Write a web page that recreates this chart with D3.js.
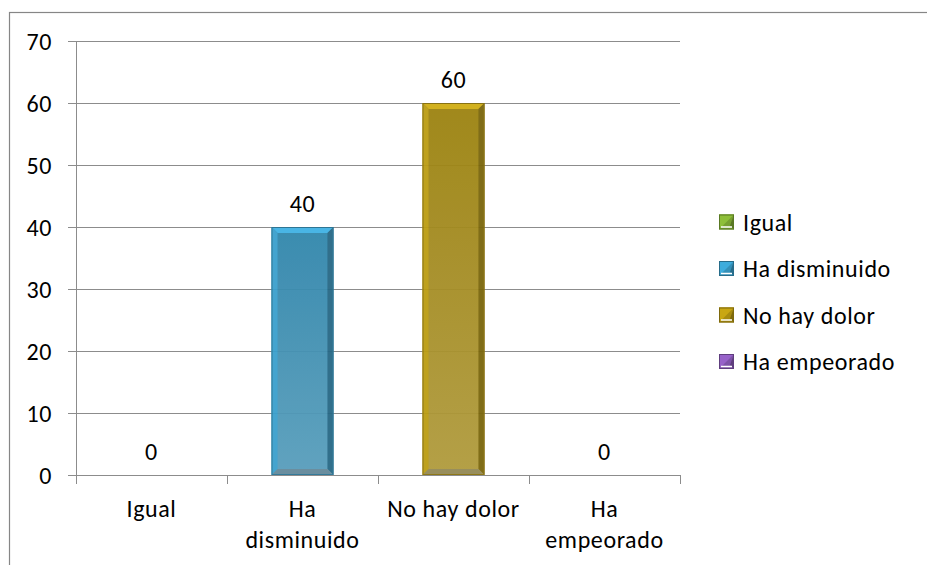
<!DOCTYPE html>
<html><head><meta charset="utf-8">
<script src="https://cdn.jsdelivr.net/npm/d3@7/dist/d3.min.js"></script>
<style>
html,body{margin:0;padding:0;background:#fff;}
svg{display:block;font-family:Calibri,Carlito,Lato,"Open Sans",sans-serif;}
svg text{letter-spacing:0.6px;}
</style></head>
<body>
<script>
const categories = ["Igual", "Ha disminuido", "No hay dolor", "Ha empeorado"];
const xLabelLines = [["Igual"], ["Ha", "disminuido"], ["No hay dolor"], ["Ha", "empeorado"]];
const values = [0, 40, 60, 0];
const colors = ["#77a030", "#3490b8", "#a88c10", "#7e52a8"];
const yTicks = [0, 10, 20, 30, 40, 50, 60, 70];

const W = 927, H = 565;
const svg = d3.select("body").append("svg").attr("width", W).attr("height", H);

// outer frame
svg.append("rect").attr("x", 9.5).attr("y", 12.5).attr("width", 930).attr("height", 600)
  .attr("fill", "none").attr("stroke", "#868686").attr("stroke-width", 1.2);

const plot = {left: 76, right: 680, top: 41, bottom: 475};
const x = d3.scaleBand().domain(categories).range([plot.left, plot.right]).paddingInner(0.59).paddingOuter(0.295);
const xc = d3.scaleBand().domain(categories).range([plot.left, plot.right]);
const y = d3.scaleLinear().domain([0, 70]).range([plot.bottom, plot.top]);

const fs = 24;
// gridlines
svg.append("g").selectAll("line").data(yTicks).join("line")
  .attr("x1", plot.left - 8).attr("x2", plot.right)
  .attr("y1", d => Math.round(y(d)) + 0.5).attr("y2", d => Math.round(y(d)) + 0.5)
  .attr("stroke", "#8c8c8c").attr("stroke-width", 1);

// y axis line
svg.append("line").attr("x1", plot.left + 0.5).attr("x2", plot.left + 0.5)
  .attr("y1", plot.top).attr("y2", plot.bottom + 1).attr("stroke", "#8c8c8c");

// y tick labels
svg.append("g").selectAll("text").data(yTicks).join("text")
  .attr("x", 52).attr("y", d => y(d)).attr("dy", "0.36em")
  .attr("text-anchor", "end").attr("font-size", fs).attr("fill", "#000").text(d => d);

// x ticks
const bounds = categories.map(c => xc(c)).concat([plot.right]);
svg.append("g").selectAll("line").data(bounds).join("line")
  .attr("x1", d => Math.round(d) + 0.5).attr("x2", d => Math.round(d) + 0.5)
  .attr("y1", plot.bottom).attr("y2", plot.bottom + 9).attr("stroke", "#8c8c8c");

// bars with bevel
const bev = 6;
const defs = svg.append("defs");
categories.forEach((c, i) => {
  const g = defs.append("linearGradient").attr("id", "grad" + i).attr("x1", 0).attr("y1", 0).attr("x2", 0).attr("y2", 1);
  const base = d3.color(colors[i]);
  g.append("stop").attr("offset", "0%").attr("stop-color", base.darker(0.2));
  g.append("stop").attr("offset", "100%").attr("stop-color", d3.interpolateRgb(base, "#c8c8c8")(0.25));
});
const bars = svg.append("g");
categories.forEach((c, i) => {
  const v = values[i];
  if (v <= 0) return;
  const x0 = x(c), x1 = x(c) + x.bandwidth(), y0 = y(v), y1 = y(0);
  const base = d3.color(colors[i]);
  const g = bars.append("g").attr("opacity", 0.95);
  g.append("rect").attr("x", x0).attr("y", y0).attr("width", x1 - x0).attr("height", y1 - y0)
    .attr("fill", `url(#grad${i})`);
  g.append("polygon").attr("points", [[x0, y0], [x1, y0], [x1 - bev, y0 + bev], [x0 + bev, y0 + bev]].join(" "))
    .attr("fill", base.brighter(0.6));
  g.append("polygon").attr("points", [[x0, y0], [x0 + bev, y0 + bev], [x0 + bev, y1 - bev], [x0, y1]].join(" "))
    .attr("fill", base.brighter(0.3));
  g.append("polygon").attr("points", [[x1, y0], [x1, y1], [x1 - bev, y1 - bev], [x1 - bev, y0 + bev]].join(" "))
    .attr("fill", base.darker(0.9));
  g.append("polygon").attr("points", [[x0, y1], [x1, y1], [x1 - bev, y1 - bev], [x0 + bev, y1 - bev]].join(" "))
    .attr("fill", d3.interpolateRgb(base.darker(0.5), "#9a9a9a")(0.5));
  g.append("rect").attr("x", x0 + 0.5).attr("y", y0 + 0.5).attr("width", x1 - x0 - 1).attr("height", y1 - y0 - 1)
    .attr("fill", "none").attr("stroke", base.darker(0.6)).attr("stroke-width", 1);
});

// data labels
svg.append("g").selectAll("text").data(categories).join("text")
  .attr("x", c => xc(c) + xc.bandwidth() / 2)
  .attr("y", (c, i) => y(values[i]) - 24).attr("dy", "0.36em")
  .attr("text-anchor", "middle").attr("font-size", fs).attr("fill", "#000")
  .text((c, i) => values[i]);

// x labels
const xl = svg.append("g");
categories.forEach((c, i) => {
  const cx = xc(c) + xc.bandwidth() / 2;
  const t = xl.append("text").attr("text-anchor", "middle").attr("font-size", fs).attr("fill", "#000");
  xLabelLines[i].forEach((ln, j) => {
    t.append("tspan").attr("x", cx).attr("y", 517 + j * 31).text(ln);
  });
});

// legend
const lg = svg.append("g");
categories.forEach((c, i) => {
  const yy = 222 + i * 46.5;
  const base = d3.color(colors[i]);
  const s = 15, sx = 719, sy = yy - s / 2;
  lg.append("rect").attr("x", sx).attr("y", sy).attr("width", s).attr("height", s).attr("fill", base);
  lg.append("polygon").attr("points", [[sx, sy], [sx + s, sy], [sx, sy + s]].join(" ")).attr("fill", base.brighter(0.5));
  lg.append("polygon").attr("points", [[sx + s, sy], [sx + s, sy + s], [sx + s - 4, sy + s - 4]].join(" ")).attr("fill", base.darker(0.8));
  lg.append("line").attr("x1", sx + 2).attr("x2", sx + s - 2).attr("y1", sy + s - 2.5).attr("y2", sy + s - 2.5)
    .attr("stroke", "#fff").attr("stroke-width", 1.5);
  lg.append("rect").attr("x", sx + 0.5).attr("y", sy + 0.5).attr("width", s - 1).attr("height", s - 1)
    .attr("fill", "none").attr("stroke", base.darker(0.8));
  lg.append("text").attr("x", 743).attr("y", yy).attr("dy", "0.36em")
    .attr("font-size", fs).attr("fill", "#000").text(c);
});
</script>
</body></html>
